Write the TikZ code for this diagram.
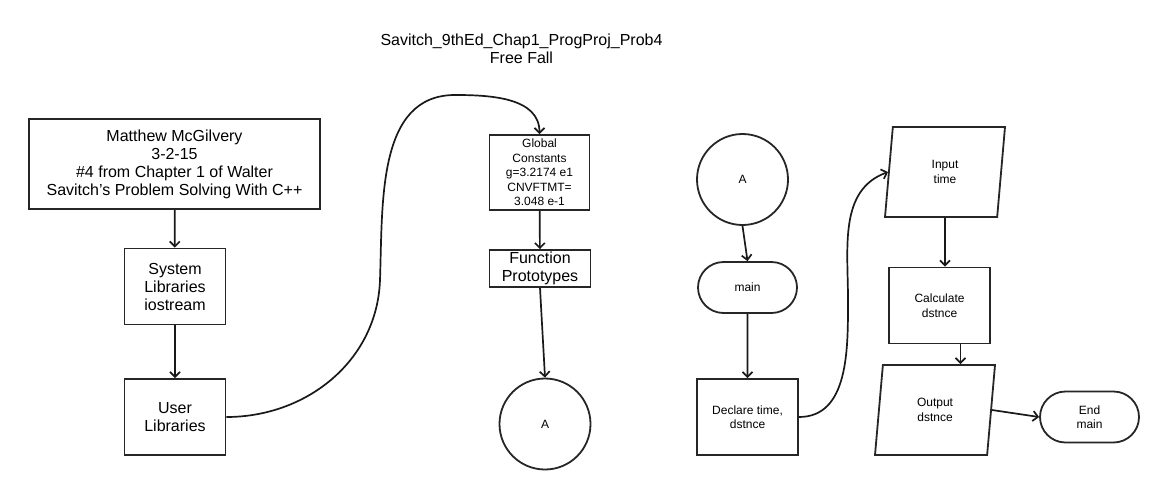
\documentclass[tikz,border=0pt]{standalone}
\usepackage{fontspec}
\setmainfont{Liberation Sans}
\usetikzlibrary{arrows.meta,shapes.geometric,shapes.misc}

\tikzset{
	box/.style={draw=black!85, line width=1.8pt, align=center, inner sep=1pt},
	bigtext/.style={font=\fontsize{16}{18}\selectfont},
	smalltext/.style={font=\fontsize{12}{14.5}\selectfont},
	proc/.style={box, rectangle, minimum width=101, minimum height=76},
	term/.style={box, rounded rectangle, minimum width=101, minimum height=51, smalltext},
	conn/.style={box, circle, minimum size=91, smalltext},
	io/.style={box, trapezium, trapezium left angle=72.5, trapezium right angle=107.5,
		trapezium stretches body, minimum width=120, minimum height=90, smalltext},
	flow/.style={->, draw=black!90, line width=1.7pt},
}

\begin{document}
\begin{tikzpicture}[x=1pt, y=-1pt, >={Straight Barb[length=5pt,width=10pt]}]
	\useasboundingbox (0,0) rectangle (1166,490);
	\path
		(521.5,49) node[align=center, font=\fontsize{16}{17.5}\selectfont] (title) {Savitch\_9thEd\_Chap1\_ProgProj\_Prob4\\Free Fall}
		(174.5,164) node[box, bigtext, minimum width=291, minimum height=90] (head) {Matthew McGilvery\\3-2-15\\\#4 from Chapter 1 of Walter\\Savitch's Problem Solving With C++}
		(175,286.5) node[proc, bigtext] (syslib) {System\\Libraries\\iostream}
		(175,417) node[proc, bigtext] (userlib) {User\\Libraries}
		(539.5,172.5) node[box, smalltext, minimum width=100, minimum height=75] (glob) {Global\\Constants\\g=3.2174 e1\\CNVFTMT=\\3.048 e-1}
		(540,268.5) node[box, bigtext, minimum width=101, minimum height=37] (proto) {Function\\Prototypes}
		(545,424) node[conn] (conA) {A}
		(742.5,179.5) node[conn] (conB) {A}
		(747.5,287.5) node[term] (main) {main}
		(747.5,417) node[proc, smalltext] (decl) {Declare time,\\dstnce}
		(945,172) node[io] (inp) {Input\\time}
		(939.5,305.5) node[proc, smalltext] (calc) {Calculate\\dstnce}
		(935,410) node[io] (outp) {Output\\dstnce}
		(1089.5,417) node[term] (endm) {End\\main}
	;

	\draw[flow] (head) -- (syslib);
	\draw[flow] (syslib) -- (userlib);
	\draw[flow] (userlib.east) to[out=0, in=-92] (380,280) to[out=88, in=180] (455,95) to[out=0, in=90] (glob.north);
	\draw[flow] (glob) -- (proto);
	\draw[flow] (proto.south) -- (conA.north);
	\draw[flow] (conB.south) -- (main.north);
	\draw[flow] (main) -- (decl);
	\draw[flow] (decl.east) to[out=0, in=-90] (848,300) to[out=90, in=200] (inp.west);
	\draw[flow] (inp.south) -- (inp.south |- calc.north);
	\draw[flow] ([xshift=21pt]calc.south) -- ([xshift=21pt]calc.south |- outp.north);
	\draw[flow] (outp.east) -- (endm.west);
\end{tikzpicture}
\end{document}
